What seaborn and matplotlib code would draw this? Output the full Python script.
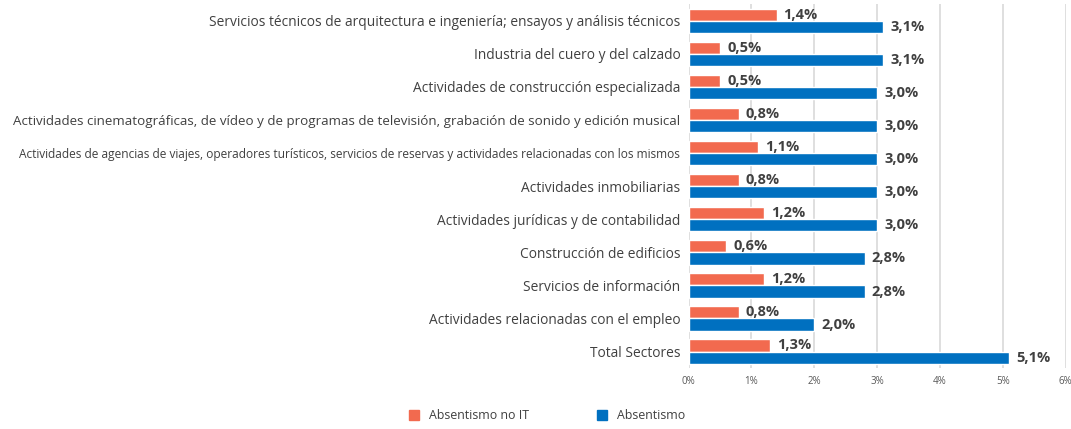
import pandas as pd
import matplotlib.pyplot as plt
import seaborn as sns

sectores = [
    "Servicios técnicos de arquitectura e ingeniería; ensayos y análisis técnicos",
    "Industria del cuero y del calzado",
    "Actividades de construcción especializada",
    "Actividades cinematográficas, de vídeo y de programas de televisión, grabación de sonido y edición musical",
    "Actividades de agencias de viajes, operadores turísticos, servicios de reservas y actividades relacionadas con los mismos",
    "Actividades inmobiliarias",
    "Actividades jurídicas y de contabilidad",
    "Construcción de edificios",
    "Servicios de información",
    "Actividades relacionadas con el empleo",
    "Total Sectores",
]
absentismo_no_it = [1.4, 0.5, 0.5, 0.8, 1.1, 0.8, 1.2, 0.6, 1.2, 0.8, 1.3]
absentismo = [3.1, 3.1, 3.0, 3.0, 3.0, 3.0, 3.0, 2.8, 2.8, 2.0, 5.1]
series = ["Absentismo no IT", "Absentismo"]
colores = ["#F26A4F", "#0070C0"]

df = pd.DataFrame({
    "sector": sectores * 2,
    "valor": absentismo_no_it + absentismo,
    "serie": [series[0]] * len(sectores) + [series[1]] * len(sectores),
})

sns.set_style("white")
plt.rcParams["font.family"] = ["Open Sans", "DejaVu Sans"]

fig, ax = plt.subplots(figsize=(10.71, 4.29), dpi=100)
fig.subplots_adjust(left=0.643, right=0.995, top=0.99, bottom=0.142)

sns.barplot(data=df, y="sector", x="valor", hue="serie", hue_order=series,
            palette=colores, orient="h", width=0.74, ax=ax, legend=False,
            saturation=1)

for cont in ax.containers:
    ax.bar_label(cont, labels=[f"{v:.1f}%".replace(".", ",") for v in cont.datavalues],
                 padding=5, fontsize=10.5, fontweight="bold", color="#404040")

ax.set_xlim(0, 6)
ax.set_xticks(range(7))
ax.set_xticklabels([f"{i}%" for i in range(7)], fontsize=7, color="#595959")
ax.tick_params(axis="y", labelsize=9.9, colors="#404040", length=0, pad=6)
ax.tick_params(axis="x", length=0, pad=6)
# las dos etiquetas largas van más comprimidas en el original
ylabels = ax.get_yticklabels()
ylabels[3].set_fontsize(9.6)
ylabels[4].set_fontsize(8.6)
ax.xaxis.grid(True, color="#D9D9D9", linewidth=1.2)
ax.set_axisbelow(True)
for s in ax.spines.values():
    s.set_visible(False)
ax.set_xlabel("")
ax.set_ylabel("")

handles = [plt.Rectangle((0, 0), 1, 1, color=c) for c in colores]
fig.legend(handles, series, loc="lower center", bbox_to_anchor=(0.511, -0.01),
           ncol=2, frameon=False, fontsize=8.9, columnspacing=5.5,
           handlelength=0.8, handleheight=0.8, labelcolor="#404040")

fig.savefig("out.png", dpi=100)
